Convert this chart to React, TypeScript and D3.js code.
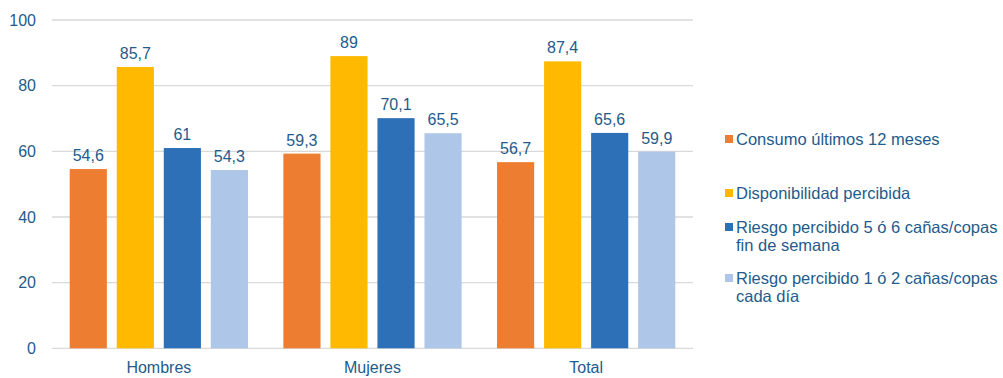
import React from "react";
import * as d3 from "d3";

const categories = ["Hombres", "Mujeres", "Total"];
const seriesNames = [
  "Consumo últimos 12 meses",
  "Disponibilidad percibida",
  "Riesgo percibido 5 ó 6 cañas/copas fin de semana",
  "Riesgo percibido 1 ó 2 cañas/copas cada día",
];
const legendLines = [
  ["Consumo últimos 12 meses"],
  ["Disponibilidad percibida"],
  ["Riesgo percibido 5 ó 6 cañas/copas", "fin de semana"],
  ["Riesgo percibido 1 ó 2 cañas/copas", "cada día"],
];
const consumo = [54.6, 59.3, 56.7];
const disponibilidad = [85.7, 89, 87.4];
const riesgo56 = [61, 70.1, 65.6];
const riesgo12 = [54.3, 65.5, 59.9];
const yTicks = [0, 20, 40, 60, 80, 100];
const colors = ["#ED7D31", "#FFBA00", "#2E70B8", "#AEC7E8"];

const seriesValues = [consumo, disponibilidad, riesgo56, riesgo12];

export default function App() {
  const W = 1003, H = 378;
  const left = 52, right = 693, top = 20, bottom = 348.3;
  const x0 = d3.scaleBand().domain(categories).range([left, right]).paddingInner(0).paddingOuter(0);
  const x1 = d3.scaleBand().domain(seriesNames).range([17.7, x0.bandwidth() - 17.7]).paddingInner(0.21).paddingOuter(0);
  const y = d3.scaleLinear().domain([0, 100]).range([bottom, top]);
  const textColor = "#245B8C";
  const font = "Liberation Sans, Arial, sans-serif";
  const fmt = (v: number) => String(v).replace(".", ",");
  const legendY = [139, 193, 227, 278];

  return (
    <svg width={W} height={H} style={{ position: "absolute", left: 0, top: 0, background: "#fff" }} fontFamily={font}>
      {yTicks.map((t) => (
        <g key={t}>
          <line x1={left} x2={right} y1={y(t)} y2={y(t)} stroke="#D9D9D9" strokeWidth={1.3} />
          <text x={36} y={y(t)} dy="0.35em" textAnchor="end" fontSize={16} fill={textColor}>{t}</text>
        </g>
      ))}
      {categories.map((c, ci) => (
        <g key={c} transform={`translate(${x0(c)},0)`}>
          {seriesNames.map((s, si) => {
            const v = seriesValues[si][ci];
            const bx = x1(s)!;
            return (
              <g key={s}>
                <rect x={bx} y={y(v)} width={x1.bandwidth()} height={bottom - y(v)} fill={colors[si]} />
                <text x={bx + x1.bandwidth() / 2} y={y(v) - 8} textAnchor="middle" fontSize={16} fill={textColor}>{fmt(v)}</text>
              </g>
            );
          })}
          <text x={x0.bandwidth() / 2} y={373} textAnchor="middle" fontSize={16} fill={textColor}>{c}</text>
        </g>
      ))}
      {legendLines.map((lines, i) => (
        <g key={i}>
          <rect x={725} y={legendY[i] - 4} width={8} height={8} fill={colors[i]} />
          {lines.map((l, li) => (
            <text key={li} x={736} y={legendY[i] + li * 18} dy="0.35em" fontSize={16.5} fill={textColor}>{l}</text>
          ))}
        </g>
      ))}
    </svg>
  );
}
